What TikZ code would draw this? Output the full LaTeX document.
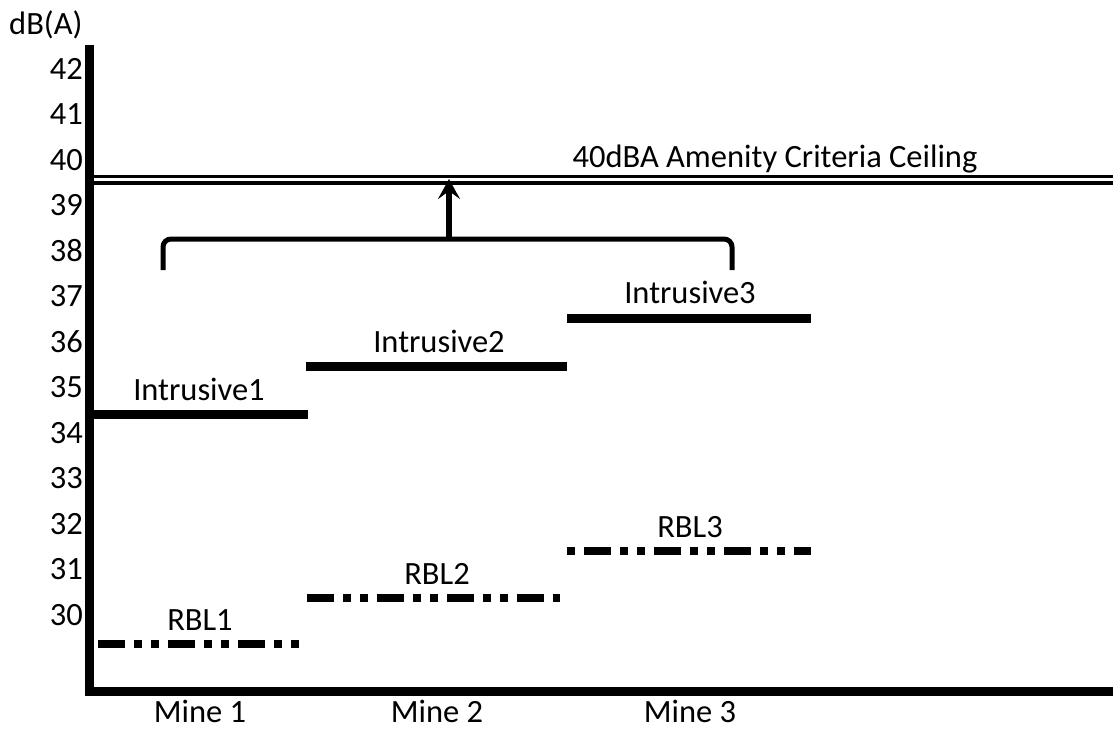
\documentclass[tikz,border=0pt]{standalone}
\usepackage{fontspec}
\setmainfont{Carlito}
\usetikzlibrary{arrows.meta}
\begin{document}
\begin{tikzpicture}[x=1pt,y=-1pt,
  lbl/.style={inner sep=0pt,anchor=base,font=\fontsize{32.5}{38}\selectfont},
  tick/.style={inner sep=0pt,anchor=base east,font=\fontsize{32.5}{38}\selectfont},
  axis/.style={line width=9pt},
  level/.style={line width=9pt},
  rbl/.style={line width=7.5pt,dash pattern=on 27pt off 9pt on 8pt off 9pt on 8pt off 9pt},
  ceil/.style={line width=3.5pt},
  bracket/.style={line width=5pt,rounded corners=8pt}]
\useasboundingbox (0,0) rectangle (1113,729);
% axes
\coordinate (ytop) at (89.5,45);
\coordinate (orig) at (89.5,691);
\coordinate (xend) at (1113,691);
\draw[axis] (ytop) -- ([yshift=-4.5pt]orig);
\draw[axis] ([xshift=-4.5pt]orig) -- (xend);
\node[lbl,anchor=base west] (unit) at (9,34) {dB(A)};
\foreach \v/\n in {42/0,41/1,40/2,39/3,38/4,37/5,36/6,35/7,34/8,33/9,32/10,31/11,30/12}
  \node[tick] (t\v) at (83,{79+\n*45.5}) {\v};
% ceiling
\coordinate (c1a) at (94,176.5); \coordinate (c1b) at (1113,176.5);
\coordinate (c2a) at (94,183);   \coordinate (c2b) at (1113,183);
\draw[ceil] (c1a) -- (c1b);
\draw[ceil] (c2a) -- (c2b);
\node[lbl] (ceiltxt) at (775,167) {40dBA Amenity Criteria Ceiling};
% bracket and arrow
\coordinate (bl) at (163,270); \coordinate (br) at (732,270);
\coordinate (bm) at (449,239); \coordinate (tip) at (449,179);
\draw[bracket] (bl) -- (163,239) -- (732,239) -- (br);
\draw[line width=5.5pt,-{Stealth[length=20pt,width=22pt,inset=8pt]}] (bm) -- (tip);
% intrusive levels
\coordinate (i1a) at (94,414);  \coordinate (i1b) at (308,414);
\coordinate (i2a) at (306,366); \coordinate (i2b) at (567,366);
\coordinate (i3a) at (567,318); \coordinate (i3b) at (811,318);
\draw[level] (i1a) -- (i1b);
\draw[level] (i2a) -- (i2b);
\draw[level] (i3a) -- (i3b);
\node[lbl] (it1) at (199,400) {Intrusive1};
\node[lbl] (it2) at (439,352) {Intrusive2};
\node[lbl] (it3) at (690,303) {Intrusive3};
% RBL levels
\coordinate (r1a) at (98,644);  \coordinate (r1b) at (299,644);
\coordinate (r2a) at (307,598); \coordinate (r2b) at (560,598);
\coordinate (r3a) at (567,551); \coordinate (r3b) at (811,551);
\draw[rbl] (r1a) -- (r1b);
\draw[rbl] (r2a) -- (r2b);
\draw[rbl,dash phase=53pt] (r3a) -- (r3b);
\node[lbl] (rt1) at (200,630) {RBL1};
\node[lbl] (rt2) at (437,584) {RBL2};
\node[lbl] (rt3) at (690,537) {RBL3};
% mines
\node[lbl] (m1) at (200,722) {Mine 1};
\node[lbl] (m2) at (437,722) {Mine 2};
\node[lbl] (m3) at (690,722) {Mine 3};
\end{tikzpicture}
\end{document}
